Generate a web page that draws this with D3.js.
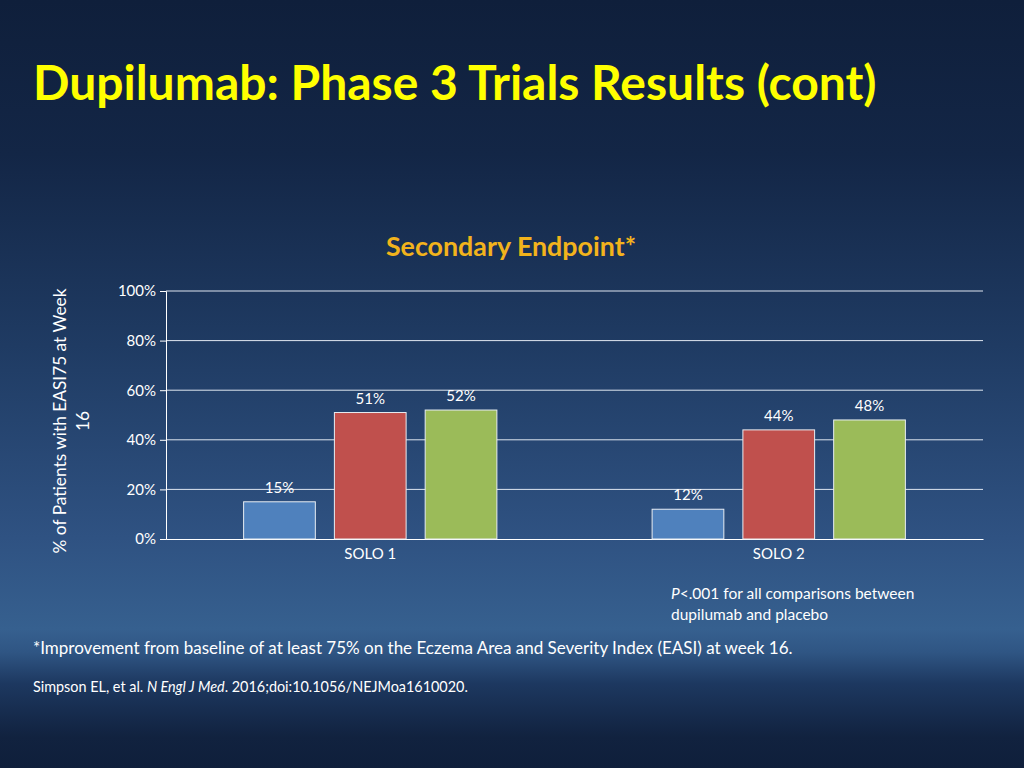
<!DOCTYPE html>
<html>
<head>
<meta charset="utf-8">
<script src="https://cdn.jsdelivr.net/npm/d3@7"></script>
<style>
  html, body { margin: 0; padding: 0; background: #0f1f3b; }
  svg { display: block; font-family: Lato, "Open Sans", sans-serif; }
</style>
</head>
<body>
<div id="chart"></div>
<script>
// chart data
const categories = ["SOLO 1", "SOLO 2"]
const seriesNames = ["Placebo", "Dupilumab q2w", "Dupilumab qw"]
const seriesColors = ["#4f81bd", "#c0504d", "#9bbb59"]
const values = [
  [15, 51, 52],
  [12, 44, 48]
]
const yTicks = [0, 20, 40, 60, 80, 100]

const W = 1024, H = 768
const margin = { left: 166, right: 41, top: 291, bottom: 229 }

const svg = d3.select("#chart").append("svg")
  .attr("width", W)
  .attr("height", H)

// slide background
const defs = svg.append("defs")
const grad = defs.append("linearGradient")
  .attr("id", "bg").attr("x1", 0).attr("y1", 0).attr("x2", 0).attr("y2", 1)
const stops = [
  [0, "#0f1f3b"], [0.2, "#132646"], [0.45, "#1f3b63"],
  [0.7, "#2f5282"], [0.82, "#36608f"], [0.85, "#2f5583"],
  [0.89, "#1d3860"], [0.96, "#11223f"], [1, "#0f1f3b"]
]
stops.forEach(s => grad.append("stop").attr("offset", s[0]).attr("stop-color", s[1]))
svg.append("rect").attr("width", W).attr("height", H).attr("fill", "url(#bg)")

// slide title
svg.append("text")
  .attr("x", 33).attr("y", 100)
  .attr("fill", "#ffff00")
  .attr("font-size", 48)
  .attr("font-weight", "bold")
  .text("Dupilumab: Phase 3 Trials Results (cont)")

// chart title
svg.append("text")
  .attr("x", 511).attr("y", 256)
  .attr("text-anchor", "middle")
  .attr("fill", "#f2b31c")
  .attr("font-size", 26.8)
  .attr("font-weight", "bold")
  .text("Secondary Endpoint*")

const x0 = d3.scaleBand()
  .domain(categories)
  .range([margin.left, W - margin.right])

const x1 = d3.scaleBand()
  .domain(seriesNames)
  .range([x0.bandwidth() * 0.19, x0.bandwidth() * 0.81])
  .paddingInner(0.21)

const y = d3.scaleLinear()
  .domain([0, 100])
  .range([H - margin.bottom, margin.top])

// gridlines
svg.append("g")
  .selectAll("line")
  .data(yTicks.slice(1))
  .join("line")
  .attr("x1", margin.left).attr("x2", W - margin.right)
  .attr("y1", d => y(d)).attr("y2", d => y(d))
  .attr("stroke", "#dfe6f0")
  .attr("stroke-width", 1)

// y axis
const yAxis = svg.append("g")
  .attr("transform", `translate(${margin.left},0)`)
  .call(d3.axisLeft(y).tickValues(yTicks).tickSize(6).tickPadding(4).tickFormat(d => d + "%"))
yAxis.select(".domain").attr("stroke", "#ffffff")
yAxis.selectAll(".tick line").attr("stroke", "#ffffff")
yAxis.selectAll(".tick text")
  .attr("fill", "#ffffff")
  .attr("font-size", 15)
  .attr("font-family", "Lato, sans-serif")

// x axis
const xAxis = svg.append("g")
  .attr("transform", `translate(0,${y(0)})`)
  .call(d3.axisBottom(x0).tickSize(0).tickPadding(9))
xAxis.select(".domain").attr("stroke", "#ffffff")
xAxis.selectAll(".tick text")
  .attr("fill", "#ffffff")
  .attr("font-size", 15)
  .attr("font-family", "Lato, sans-serif")

// y axis title
const yTitle = svg.append("text")
  .attr("transform", `translate(66,${421}) rotate(-90)`)
  .attr("text-anchor", "middle")
  .attr("fill", "#ffffff")
  .attr("font-size", 17.3)
yTitle.append("tspan").attr("x", 0).attr("dy", 0).text("% of Patients with EASI75 at Week")
yTitle.append("tspan").attr("x", 0).attr("dy", 23).text("16")

// bars
const groups = svg.append("g")
  .selectAll("g")
  .data(categories)
  .join("g")
  .attr("transform", c => `translate(${x0(c)},0)`)

groups.selectAll("rect")
  .data((c, i) => seriesNames.map((s, j) => ({ s, v: values[i][j], color: seriesColors[j] })))
  .join("rect")
  .attr("x", d => x1(d.s))
  .attr("width", x1.bandwidth())
  .attr("y", d => y(d.v))
  .attr("height", d => y(0) - y(d.v))
  .attr("fill", d => d.color)
  .attr("stroke", "#e8edf3")
  .attr("stroke-width", 1)

groups.selectAll("text.val")
  .data((c, i) => seriesNames.map((s, j) => ({ s, v: values[i][j] })))
  .join("text")
  .attr("class", "val")
  .attr("x", d => x1(d.s) + x1.bandwidth() / 2)
  .attr("y", d => y(d.v) - 9)
  .attr("text-anchor", "middle")
  .attr("fill", "#ffffff")
  .attr("font-size", 15)
  .text(d => d.v + "%")

// notes
const pNote = svg.append("text")
  .attr("x", 671).attr("y", 599)
  .attr("fill", "#ffffff")
  .attr("font-size", 15.5)
pNote.append("tspan").attr("font-style", "italic").text("P")
pNote.append("tspan").text("<.001 for all comparisons between")
svg.append("text")
  .attr("x", 671).attr("y", 620)
  .attr("fill", "#ffffff")
  .attr("font-size", 15.5)
  .text("dupilumab and placebo")

svg.append("text")
  .attr("x", 33).attr("y", 654)
  .attr("fill", "#ffffff")
  .attr("font-size", 17)
  .text("*Improvement from baseline of at least 75% on the Eczema Area and Severity Index (EASI) at week 16.")

const cite = svg.append("text")
  .attr("x", 33).attr("y", 692)
  .attr("fill", "#ffffff")
  .attr("font-size", 14.4)
cite.append("tspan").text("Simpson EL, et al. ")
cite.append("tspan").attr("font-style", "italic").text("N Engl J Med")
cite.append("tspan").text(". 2016;doi:10.1056/NEJMoa1610020.")
</script>
</body>
</html>
